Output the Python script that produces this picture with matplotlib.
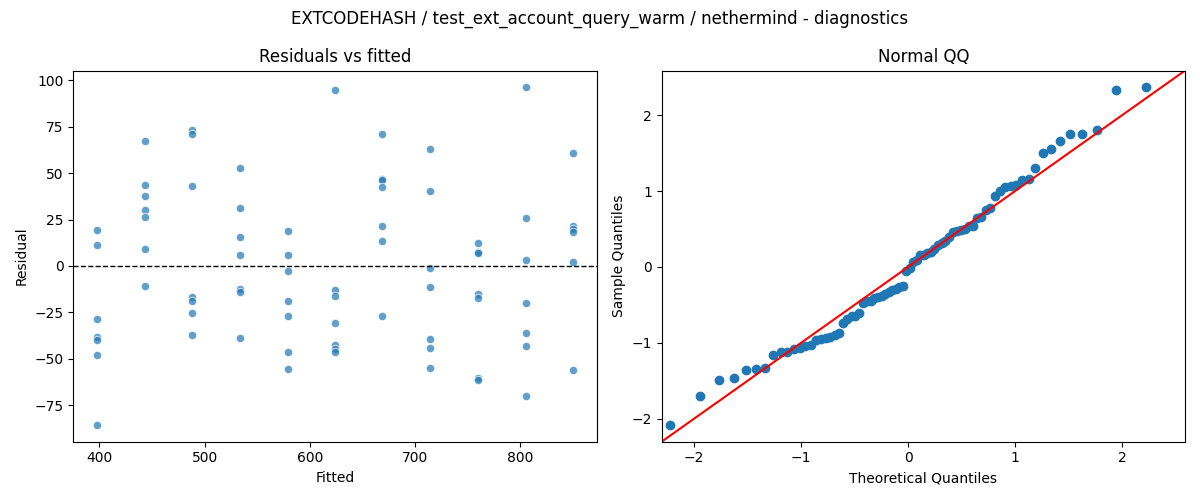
import numpy as np
import matplotlib
matplotlib.use("Agg")
import matplotlib.pyplot as plt
from statistics import NormalDist

fitted_levels = [398, 443, 488, 534, 579, 624, 669, 714, 760, 805, 850]
residuals_by_level = [
    [19.2, 11.3, -28.7, -38.0, -39.8, -47.8, -85.6],
    [67.2, 43.9, 37.6, 30.1, 26.2, 9.0, -10.9],
    [73.1, 71.3, 43.0, -16.8, -19.0, -25.4, -37.3],
    [52.7, 31.5, 15.6, 5.7, -12.4, -14.2, -38.9],
    [18.6, 5.7, -2.9, -19.0, -27.1, -46.1, -55.6],
    [94.6, -12.9, -16.3, -30.8, -42.5, -44.8, -46.2],
    [71.3, 47.1, 46.2, 42.8, 21.3, 13.3, -27.1],
    [63.3, 40.3, -1.3, -11.5, -39.4, -44.3, -54.8],
    [12.4, 7.5, 7.2, -15.1, -17.4, -60.4, -61.5],
    [96.2, 25.8, 3.0, -20.1, -36.2, -43.2, -70.1],
    [61.1, 21.7, 20.1, 18.1, 2.0, -56.1],
]

fitted = np.concatenate([[f] * len(r) for f, r in zip(fitted_levels, residuals_by_level)])
resid = np.concatenate([np.array(r) for r in residuals_by_level])

fig, (ax1, ax2) = plt.subplots(1, 2, figsize=(12, 5), dpi=100)

ax1.scatter(fitted, resid, s=36, color="#1f77b4", alpha=0.7, edgecolors="white", linewidths=0.75)
ax1.axhline(0, color="black", linestyle="--", linewidth=1)
ax1.set_title("Residuals vs fitted")
ax1.set_xlabel("Fitted")
ax1.set_ylabel("Residual")

# Normal QQ
n = len(resid)
sample = np.sort((resid - resid.mean()) / resid.std())
nd = NormalDist()
theo = np.array([nd.inv_cdf(i / (n + 1)) for i in range(1, n + 1)])
ax2.plot(theo, sample, marker="o", linestyle="none", markerfacecolor="#1f77b4", markeredgecolor="#1f77b4")
lo, hi = ax2.get_ylim()
ax2.plot([lo, hi], [lo, hi], color="red")
ax2.set_xlim(lo, hi)
ax2.set_ylim(lo, hi)
ax2.set_title("Normal QQ")
ax2.set_xlabel("Theoretical Quantiles")
ax2.set_ylabel("Sample Quantiles")

fig.suptitle("EXTCODEHASH / test_ext_account_query_warm / nethermind - diagnostics")
fig.tight_layout()
fig.savefig("out.png")
